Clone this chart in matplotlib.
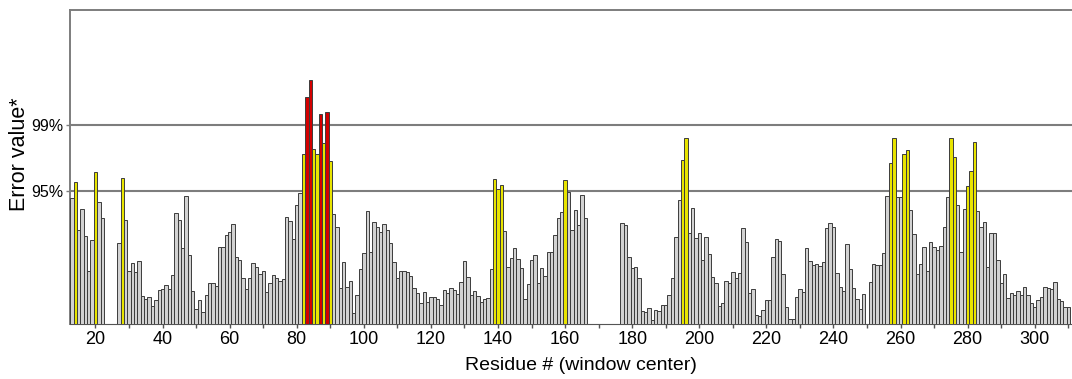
import numpy as np
import matplotlib
matplotlib.use("Agg")
import matplotlib.pyplot as plt
from matplotlib.ticker import MultipleLocator
from matplotlib import font_manager

nan = np.nan

# residue numbers (window centres) and error values
# (units: height above the baseline on the original scale)
first_residue = 13
error_values = [
    126, 142, 94, 115, 88, 53, 84, 152, 122, 106,
    nan, nan, nan, nan, 81, 146, 104, 53, 61, 52,
    63, 28, 25, 27, 18, 24, 34, 35, 39, 35,
    49, 111, 104, 76, 128, 69, 33, 15, 24, 12,
    29, 41, 41, 38, 77, 77, 89, 92, 100, 67,
    64, 46, 35, 46, 61, 57, 50, 53, 32, 41,
    49, 46, 43, 45, 107, 103, 85, 119, 131, 170,
    227, 244, 175, 170, 210, 181, 212, 163, 110, 97,
    36, 62, 37, 43, 11, 29, 55, 71, 113, 72,
    102, 97, 92, 100, 94, 81, 62, 46, 53, 53,
    52, 48, 36, 31, 21, 32, 22, 27, 27, 25,
    19, 34, 31, 36, 34, 30, 42, 63, 47, 29,
    33, 28, 22, 25, 26, 55, 145, 135, 139, 93,
    57, 66, 76, 65, 56, 25, 40, 64, 69, 41,
    56, 48, 72, 72, 89, 106, 112, 144, 132, 94,
    114, 99, 129, 106, nan, nan, nan, nan, nan, nan,
    nan, nan, nan, nan, 101, 99, 67, 56, 57, 46,
    13, 12, 16, 4, 14, 13, 19, 19, 29, 46,
    87, 124, 164, 186, 91, 116, 86, 91, 64, 87,
    70, 47, 41, 18, 21, 43, 41, 52, 46, 51,
    96, 82, 31, 35, 9, 8, 14, 24, 24, 67,
    85, 83, 50, 17, 5, 5, 27, 35, 32, 76,
    63, 59, 60, 58, 62, 96, 101, 97, 51, 37,
    33, 80, 55, 36, 25, 15, 30, nan, 42, 60,
    59, 59, 71, 128, 161, 186, 127, 127, 170, 174,
    114, 90, 50, 60, 77, 53, 82, 77, 74, 78,
    97, 127, 186, 167, 119, 72, 115, 138, 153, 182,
    113, 97, 102, 57, 91, 91, 64, 41, 50, 26,
    31, 29, 33, 29, 37, 29, 21, 17, 24, 27,
    37, 36, 35, 42, 25, 23, 17, 17,
]
residues = np.arange(first_residue, first_residue + len(error_values))
values = np.array(error_values, dtype=float)

# confidence limits drawn as horizontal rules
limit_levels = [133.3, 199.3]
limit_labels = ["95%", "99%"]

x_ticks = list(range(20, 301, 20))

GRAY_FILL = "#d2d2d2"
YELLOW = "#e8e400"
RED = "#d40000"
RULE = "#7d7d7d"

colors = np.where(values > limit_levels[1], RED,
                  np.where(values > limit_levels[0], YELLOW, GRAY_FILL))

plt.rcParams["font.family"] = ["Liberation Sans", "DejaVu Sans"]

# narrow face for the tick numbers if it is installed
installed = {f.name for f in font_manager.fontManager.ttflist}
narrow = "Liberation Sans Narrow" in installed
tick_family = "Liberation Sans Narrow" if narrow else "Liberation Sans"
x_tick_size = 14 if narrow else 13
y_tick_size = 13 if narrow else 11.5

fig = plt.figure(figsize=(10.72, 3.79), dpi=100)
ax = fig.add_axes([70 / 1072, 1 - 324 / 379, 1 - 70 / 1072, 314 / 379])

ok = ~np.isnan(values)
ax.bar(residues[ok], values[ok], width=1.0, color=colors[ok],
       edgecolor="#3c3c3c", linewidth=0.7, zorder=3)

for lvl in limit_levels:
    ax.axhline(lvl, color=RULE, linewidth=1.5, zorder=2)

ax.set_xlim(12.4, 311.1)
ax.set_ylim(0, 314)

ax.set_xticks(x_ticks)
ax.xaxis.set_minor_locator(MultipleLocator(10))
ax.tick_params(axis="x", which="both", direction="out", length=3.2,
               width=1.0, color="#555555", pad=2)
ax.set_yticks(limit_levels)
ax.set_yticklabels(limit_labels)
ax.tick_params(axis="y", direction="out", length=3, width=1.0,
               color=RULE, pad=2)
for lab in ax.get_xticklabels():
    lab.set_family(tick_family)
    lab.set_fontsize(x_tick_size)
for lab in ax.get_yticklabels():
    lab.set_family(tick_family)
    lab.set_fontsize(y_tick_size)

for side in ["left", "top"]:
    ax.spines[side].set_color(RULE)
    ax.spines[side].set_linewidth(1.4)
ax.spines["right"].set_visible(False)
ax.spines["bottom"].set_color("#555555")
ax.spines["bottom"].set_linewidth(0.8)

fig.text(581 / 1072, 1 - 365 / 379, "Residue # (window center)",
         ha="center", va="center", fontsize=14)
fig.text(20 / 1072, 1 - 154 / 379, "Error value*", rotation=90,
         ha="center", va="center", fontsize=15.5)

fig.savefig("out.png", dpi=100)
